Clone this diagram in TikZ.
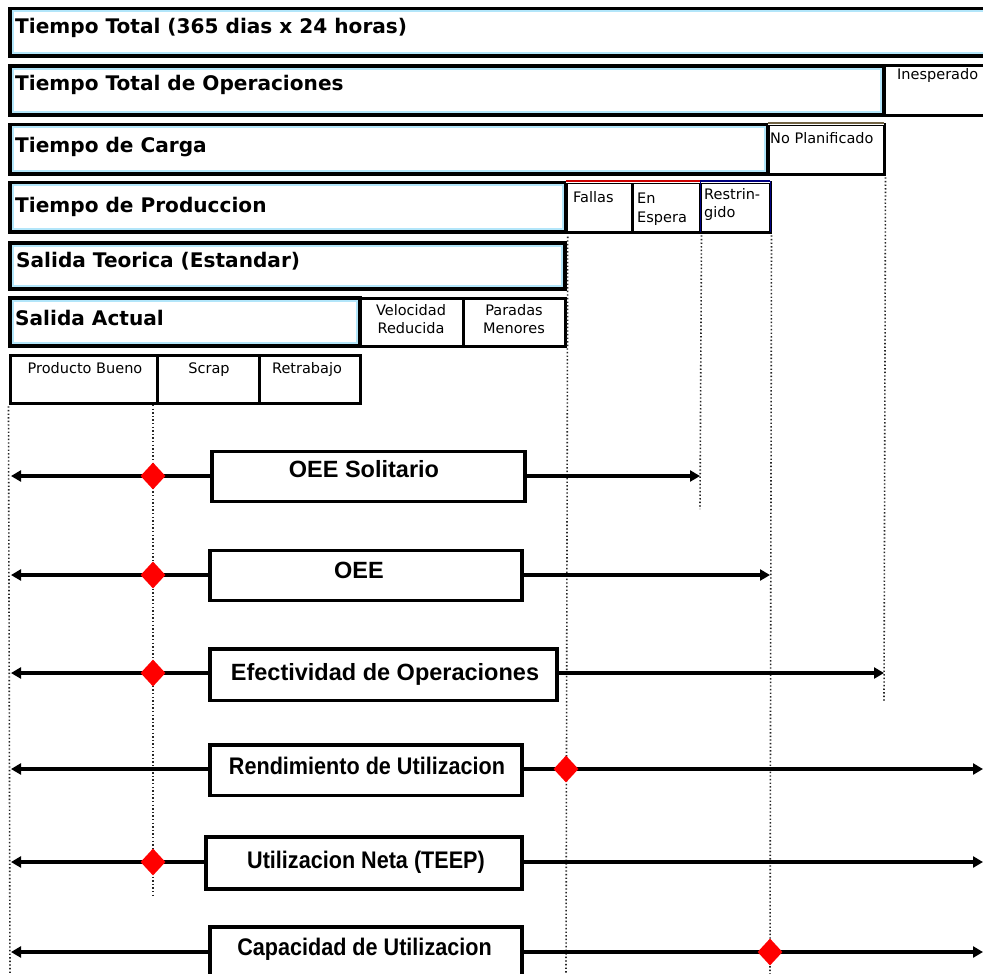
\documentclass[tikz,border=0pt]{standalone}
\usepackage{fontspec}
\usetikzlibrary{arrows.meta,fit,shapes.geometric}
\newfontfamily\hdrfont{DejaVu Sans}
\newfontfamily\lblfont{Liberation Sans}
\newfontfamily\nlblfont{Liberation Sans}[FakeStretch=0.9]

\tikzset{
  bigbox/.style={draw=black, line width=3.4pt, inner sep=0pt, fill=white},
  cellbox/.style={draw=black, line width=3pt, inner sep=0pt, fill=white},
  tint/.style={draw=cyan!30, line width=1.8pt},
  hdr/.style={font=\hdrfont\bfseries\fontsize{20.1}{24}\selectfont, inner sep=0pt, anchor=base west},
  note/.style={font=\hdrfont\fontsize{14.5}{18}\selectfont, inner sep=0pt, anchor=base west},
  cnote/.style={note, anchor=base},
  metric/.style={draw=black, line width=3.4pt, inner sep=0pt, fill=white},
  mtext/.style={font=\lblfont\bfseries\fontsize{23.5}{26}\selectfont, inner sep=0pt, anchor=base},
  ntext/.style={font=\nlblfont\bfseries\fontsize{24}{26}\selectfont, inner sep=0pt, anchor=base},
  guide/.style={draw=black!85, line width=1.6pt, dash pattern=on 1.4pt off 2.2pt},
  span/.style={draw=black, line width=3.4pt, -{Triangle[length=10pt,width=11pt]}},
  gem/.style={diamond, fill=red, draw=none, inner sep=0pt, minimum width=25pt, minimum height=27pt}
}

\begin{document}
\begin{tikzpicture}[x=1pt, y=-1pt]
\useasboundingbox (0,0) rectangle (983,974);
\clip (0,0) rectangle (983,974);
\fill[white] (0,0) rectangle (983,974);

% ---------- time breakdown bars ----------
\node[bigbox, fit={(10,8.5) (1000,56)}] (tt) {};
\draw[tint] (12.8,11.3) rectangle (1000,53.2);
\node[hdr] (ttt) at (15,33.5) {Tiempo Total (365 dias x 24 horas)};

\node[bigbox, fit={(10,66) (884,115)}] (to) {};
\draw[tint] (12.8,68.8) rectangle (881.2,112.2);
\node[hdr] (tot) at (15,90) {Tiempo Total de Operaciones};
\node[cellbox, fit={(884,66) (1000,115)}] (ine) {};
\node[note] (inet) at (897,80) {Inesperado};

\node[bigbox, fit={(10,124.5) (768,174)}] (tc) {};
\draw[tint] (12.8,127.3) rectangle (765.2,171.2);
\node[hdr] (tct) at (15,152) {Tiempo de Carga};
\node[cellbox, fit={(768,124.5) (884,174)}] (np) {};
\draw[white, line width=3pt] ([xshift=1.6pt]np.north west) -- ([xshift=-1.6pt]np.north east);
\draw[black!70!yellow!90!red, line width=1.3pt] ([xshift=1.6pt]np.north west) -- ([xshift=-1.6pt]np.north east);
\node[note] (npt) at (770,143) {No Planificado};

\node[bigbox, fit={(10,182.5) (566,232)}] (tp) {};
\draw[tint] (12.8,185.3) rectangle (563.2,229.2);
\node[hdr] (tpt) at (15,212) {Tiempo de Produccion};
\node[cellbox, fit={(566,182.5) (632,232)}] (fal) {};
\node[cellbox, fit={(632,182.5) (700,232)}] (esp) {};
\node[cellbox, fit={(700,182.5) (770,232)}] (res) {};
\foreach \c/\col in {fal/red!80!black, esp/red!80!black, res/blue!50!black} {
  \draw[white, line width=3pt] ([xshift=1.6pt]\c.north west) -- ([xshift=-1.6pt]\c.north east);
  \draw[\col, line width=1.3pt] ([xshift=1.6pt]\c.north west) -- ([xshift=-1.6pt]\c.north east);
}
\draw[blue!50!black, line width=1.6pt] ([xshift=-1.2pt]res.north east) -- ([xshift=-1.2pt,yshift=1.6pt]res.south east);
\draw[blue!50!black, line width=1pt] ([xshift=1.8pt]res.north west) -- ([xshift=1.8pt,yshift=1.6pt]res.south west);
\node[note] (falt) at (573,202) {Fallas};
\node[note] (espt1) at (637,203) {En};
\node[note] (espt2) at (637,222) {Espera};
\node[note] (rest1) at (704,199) {Restrin-};
\node[note] (rest2) at (704,217) {gido};

\node[bigbox, fit={(10,243) (565,289)}] (st) {};
\draw[tint] (12.8,245.8) rectangle (562.2,286.2);
\node[hdr] (stt) at (16,267) {Salida Teorica (Estandar)};

\node[bigbox, fit={(10,298) (360,346)}] (sa) {};
\draw[tint] (12.8,300.8) rectangle (357.2,343.2);
\node[hdr] (sat) at (15,325) {Salida Actual};
\node[cellbox, fit={(360,298) (463,346)}] (vel) {};
\node[cellbox, fit={(463,298) (565,346)}] (par) {};
\node[cnote] (velt1) at (411,315) {Velocidad};
\node[cnote] (velt2) at (411,333) {Reducida};
\node[cnote] (part1) at (514,315) {Paradas};
\node[cnote] (part2) at (514,333) {Menores};

\node[cellbox, fit={(10,355) (157,403)}] (pb) {};
\node[cellbox, fit={(157,355) (259,403)}] (scr) {};
\node[cellbox, fit={(259,355) (360,403)}] (ret) {};
\node[cnote] (pbt) at (85,373) {Producto Bueno};
\node[cnote] (scrt) at (209,373) {Scrap};
\node[cnote] (rett) at (307,373) {Retrabajo};

% ---------- dotted reference lines ----------
\coordinate (gL) at (10,974);
\coordinate (gA1) at (153,405);
\coordinate (gA2) at (153,895);
\coordinate (gB) at (566,974);
\coordinate (gC) at (700,509);
\coordinate (gD) at (770,974);
\coordinate (gE) at (884,702);
\draw[guide] ([yshift=-1.8pt]pb.south west) -- (gL);
\draw[guide] (gA1) -- (gA2);
\draw[guide] ([yshift=-3pt]tp.south east) -- (gB);
\draw[guide] ([yshift=-1.8pt]esp.south east) -- (gC);
\draw[guide] ([yshift=-1.8pt]res.south east) -- (gD);
\draw[guide] ([yshift=-1.8pt]np.south east) -- (gE);

% ---------- indicator spans ----------
\node[metric, fit={(212,451.5) (525,501.5)}] (m1) {};
\node[mtext] (m1t) at (364,477) {OEE Solitario};
\node[metric, fit={(210,550.5) (522,600.5)}] (m2) {};
\node[mtext] (m2t) at (359,578) {OEE};
\node[metric, fit={(210,649) (557,700.5)}] (m3) {};
\node[mtext] (m3t) at (385,680) {Efectividad de Operaciones};
\node[metric, fit={(210,745) (522,795.5)}] (m4) {};
\node[ntext] (m4t) at (367,774) {Rendimiento de Utilizacion};
\node[metric, fit={(206,837) (522,889)}] (m5) {};
\node[ntext] (m5t) at (366,868) {Utilizacion Neta (TEEP)};
\node[metric, fit={(210,927) (522,1000)}] (m6) {};
\node[ntext] (m6t) at (364.5,955) {Capacidad de Utilizacion};

\coordinate (a1l) at (11,476);  \coordinate (a1r) at (700,476);
\coordinate (a2l) at (11,575);  \coordinate (a2r) at (770,575);
\coordinate (a3l) at (11,673);  \coordinate (a3r) at (884,673);
\coordinate (a4l) at (11,769);  \coordinate (a4r) at (983,769);
\coordinate (a5l) at (11,862);  \coordinate (a5r) at (983,862);
\coordinate (a6l) at (11,952);  \coordinate (a6r) at (983,952);

\foreach \i in {1,...,6} {
  \draw[span] (a\i l -| m\i.west) -- (a\i l);
  \draw[span] (a\i l -| m\i.east) -- (a\i r);
}

\node[gem] (d1) at (153,476) {};
\node[gem] (d2) at (153,575) {};
\node[gem] (d3) at (153,673) {};
\node[gem] (d4) at (566,769) {};
\node[gem] (d5) at (153,862) {};
\node[gem] (d6) at (770,952) {};
\end{tikzpicture}
\end{document}
